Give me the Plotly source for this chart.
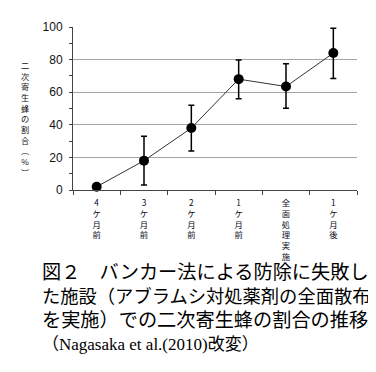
import plotly.graph_objects as go

# ---- data ----
categories = ["4ケ月前", "3ケ月前", "2ケ月前", "1ケ月前", "全面処理実施", "1ケ月後"]
values = [2, 18, 38, 68, 63.5, 84]
err_plus = [0, 15, 14, 11.7, 14, 15.2]
err_minus = [0, 15, 14, 12, 13.3, 15.6]
y_ticks = [0, 20, 40, 60, 80, 100]
y_title = "二次寄生蜂の割合︵%︶"
caption = [
    "図２　バンカー法による防除に失敗し",
    "た施設（アブラムシ対処薬剤の全面散布",
    "を実施）での二次寄生蜂の割合の推移",
    "（Nagasaka et al.(2010)改変）",
]

OFF = 8                      # page body margin
W, H = 376 - OFF, 372 - OFF  # figure size
L, R, T, B = 73, 357, 21, 190  # plot area in window pixels


def px(x):
    return (x - L) / (R - L)


def py(y):
    return (B - y) / (B - T)


fig = go.Figure()
fig.add_trace(go.Scatter(
    x=categories, y=values, mode="lines+markers",
    line=dict(color="#333333", width=1),
    marker=dict(color="black", size=10),
    error_y=dict(type="data", symmetric=False, array=err_plus, arrayminus=err_minus,
                 color="black", thickness=1.5, width=3),
    showlegend=False, cliponaxis=False,
))

tick_text = ["<br>".join(list(c)) for c in categories]

fig.update_layout(
    width=W, height=H,
    margin=dict(l=L - OFF, r=W + OFF - R, t=T - OFF, b=H + OFF - B, pad=0),
    paper_bgcolor="white", plot_bgcolor="white",
    font=dict(family="Liberation Sans, Arial, Noto Sans CJK JP", color="black"),
    xaxis=dict(
        type="category", range=[-0.5, 5.5],
        tickmode="array", tickvals=categories, ticktext=tick_text,
        tickson="boundaries", ticks="outside", ticklen=4, tickcolor="#444",
        showline=True, linecolor="#444", linewidth=1,
        showgrid=False, zeroline=False,
        tickfont=dict(size=8.3, family="Noto Sans CJK JP", color="#0a0a1a"),
        ticklabelstandoff=5,
        fixedrange=True,
    ),
    yaxis=dict(
        range=[0, 100], tickmode="array", tickvals=y_ticks,
        ticks="outside", ticklen=3, tickcolor="#444",
        minor=dict(dtick=10, ticks="outside", ticklen=3, tickcolor="#444", showgrid=False),
        showline=True, linecolor="#444", linewidth=1,
        showgrid=True, gridcolor="#a4a6a2", gridwidth=1.2,
        zeroline=False,
        tickfont=dict(size=12, color="#111"),
        ticklabelstandoff=4,
        fixedrange=True,
    ),
)

annotations = [dict(
    text="<br>".join(list(y_title)), xref="paper", yref="paper", x=px(25), y=py(116),
    xanchor="center", yanchor="middle", showarrow=False,
    font=dict(size=8.2, family="Noto Sans CJK JP", color="#111"),
)]

cap_y = [276, 300, 325, 350]
cap_size = [19.2, 18.3, 19.2, 17]
for line, yy, sz in zip(caption, cap_y, cap_size):
    annotations.append(dict(
        text=line, xref="paper", yref="paper", x=px(40), y=py(yy),
        xanchor="left", yanchor="middle", showarrow=False,
        font=dict(size=sz, family="Liberation Serif, Noto Sans CJK JP", color="black"),
    ))
fig.update_layout(annotations=annotations)

fig.write_html("out.html", config={"displayModeBar": False})
